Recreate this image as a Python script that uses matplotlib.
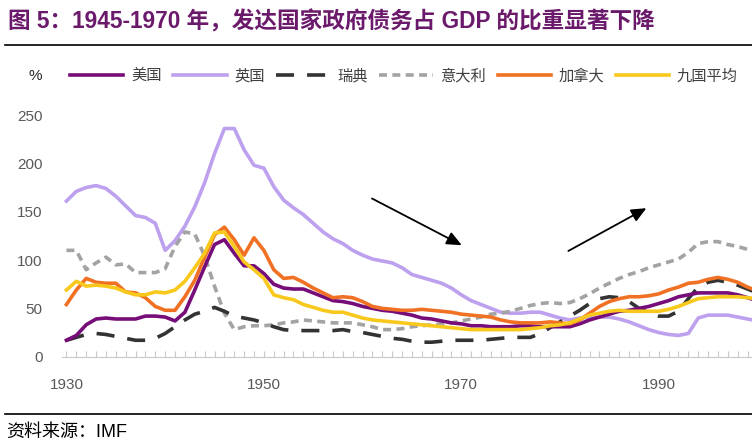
import matplotlib

matplotlib.use("Agg")
import matplotlib.pyplot as plt
import numpy as np
from matplotlib.lines import Line2D
from matplotlib.ticker import FixedLocator, MultipleLocator

plt.rcParams["font.family"] = ["Liberation Sans", "Noto Sans CJK SC", "DejaVu Sans"]

YEARS = list(range(1930, 2001))

US = [17, 22, 33, 39, 40, 39, 39, 39, 42, 42,
      41, 37, 46, 69, 93, 116, 121, 107, 94, 94,
      86, 75, 71, 70, 70, 66, 62, 58, 57, 55,
      52, 50, 48, 47, 45, 43, 40, 39, 37, 35,
      34, 32, 32, 31, 31, 31, 32, 32, 31, 31,
      31, 31, 34, 38, 41, 44, 47, 48, 50, 52,
      55, 58, 62, 64, 66, 66, 66, 66, 64, 61, 58]
UK = [161, 171, 175, 177, 174, 166, 156, 146, 144, 138,
      110, 120, 135, 155, 180, 210, 236, 236, 214, 198,
      195, 176, 162, 154, 147, 138, 129, 122, 117, 110,
      105, 101, 99, 97, 92, 85, 82, 79, 76, 71,
      64, 58, 54, 50, 46, 45, 45, 46, 46, 43,
      40, 38, 40, 41, 41, 41, 39, 36, 32, 28,
      25, 23, 22, 24, 40, 43, 43, 43, 41, 39, 37]
SWEDEN = [17, 20, 23, 24, 23, 21, 19, 17, 17, 19,
          24, 31, 38, 44, 47, 51, 47, 42, 40, 38,
          35, 31, 28, 27, 27, 27, 27, 27, 28, 26,
          25, 23, 21, 19, 18, 16, 15, 15, 16, 17,
          17, 17, 17, 18, 19, 20, 20, 20, 24, 30,
          36, 42, 48, 55, 60, 62, 61, 57, 50, 46,
          42, 42, 47, 60, 72, 77, 79, 77, 74, 70, 66]
ITALY = [110, 110, 90, 97, 103, 95, 96, 87, 87, 87,
         91, 114, 129, 127, 104, 73, 45, 28, 31, 32,
         32, 33, 35, 36, 38, 37, 36, 35, 35, 35,
         33, 31, 28, 28, 29, 31, 32, 33, 34, 35,
         37, 39, 41, 44, 45, 47, 50, 53, 55, 56,
         55, 56, 60, 65, 71, 76, 81, 85, 88, 92,
         95, 98, 101, 108, 117, 119, 119, 116, 114, 111, 110]
CANADA = [54, 69, 81, 77, 76, 76, 67, 66, 61, 52,
          48, 48, 62, 79, 103, 126, 134, 121, 105, 123,
          110, 90, 81, 82, 77, 71, 66, 61, 62, 61,
          57, 52, 50, 49, 48, 48, 49, 48, 47, 46,
          44, 43, 42, 41, 38, 36, 35, 35, 35, 36,
          35, 34, 38, 45, 52, 57, 60, 62, 62, 63,
          65, 69, 72, 76, 77, 80, 82, 80, 77, 72, 68]
AVG9 = [69, 78, 73, 74, 73, 71, 67, 64, 64, 67,
        66, 69, 78, 92, 107, 128, 129, 114, 98, 90,
        81, 64, 61, 59, 54, 51, 48, 46, 46, 43,
        40, 38, 37, 36, 35, 34, 33, 32, 31, 30,
        29, 28, 28, 28, 28, 28, 28, 29, 30, 32,
        33, 35, 39, 43, 45, 47, 48, 47, 47, 47,
        47, 49, 52, 56, 60, 61, 62, 62, 62, 61, 60]

SERIES = [
    ("美国", US, "#760d78", "-"),
    ("英国", UK, "#bda0ee", "-"),
    ("瑞典", SWEDEN, "#333333", (0, (5, 3.6))),
    ("意大利", ITALY, "#a3a3a3", (0, (2.2, 1.5))),
    ("加拿大", CANADA, "#f07123", "-"),
    ("九国平均", AVG9, "#f8c81c", "-"),
]
DRAW_ORDER = ["英国", "意大利", "瑞典", "美国", "加拿大", "九国平均"]

X_LABELS = [1930, 1950, 1970, 1990]
Y_TICKS = [0, 50, 100, 150, 200, 250]
TITLE = "图 5：1945-1970 年，发达国家政府债务占 GDP 的比重显著下降"
SOURCE = "资料来源：IMF"


def main() -> None:
    fig = plt.figure(figsize=(7.52, 4.44), dpi=100)
    ax = fig.add_axes([62 / 752, 87.3 / 444, 690 / 752, 241.7 / 444])

    lookup = {name: (vals, color, ls) for name, vals, color, ls in SERIES}
    for name in DRAW_ORDER:
        vals, color, ls = lookup[name]
        ax.plot(YEARS, vals, color=color, linestyle=ls, lw=2.6, solid_joinstyle="round")

    ax.set_xlim(1929.55, 1999.45)
    ax.set_ylim(0, 250)
    ax.xaxis.set_major_locator(FixedLocator(X_LABELS))
    ax.xaxis.set_minor_locator(MultipleLocator(1))
    ax.set_yticks(Y_TICKS)
    ax.tick_params(axis="x", which="both", direction="in", length=4, color="#c8c8c8", width=0.8)
    ax.tick_params(axis="x", which="major", pad=15, labelsize=11, labelcolor="#595959")
    ax.tick_params(axis="y", length=0, pad=14, labelsize=11, labelcolor="#595959")
    for side in ["top", "right", "left"]:
        ax.spines[side].set_visible(False)
    ax.spines["bottom"].set_color("#c8c8c8")
    ax.spines["bottom"].set_linewidth(0.8)

    arrow = dict(arrowstyle="-|>,head_length=0.9,head_width=0.4", color="black", lw=1.3)
    ax.annotate("", xy=(1970.3, 114), xytext=(1960.7, 165), arrowprops=arrow)
    ax.annotate("", xy=(1989.0, 155), xytext=(1980.6, 108), arrowprops=arrow)

    handles = [Line2D([], [], color=c, linestyle=ls, lw=2.6) for _, _, c, ls in SERIES]
    fig.legend(
        handles,
        [s[0] for s in SERIES],
        loc="center left",
        bbox_to_anchor=(70 / 752, 1 - 76 / 444),
        ncol=6,
        frameon=False,
        fontsize=11,
        handlelength=3.5,
        handletextpad=0.5,
        columnspacing=0.75,
        labelcolor="#404040",
        borderpad=0,
        borderaxespad=0,
    )
    fig.text(35 / 752, 1 - 76 / 444, "%", fontsize=11, color="#262626", ha="center", va="center")

    fig.text(8 / 752, 1 - 22 / 444, TITLE, fontsize=16.3, fontweight="bold", color="#6b1a6b", va="center")
    fig.add_artist(Line2D([5 / 752, 1], [1 - 45 / 444] * 2, color="black", lw=1.2))
    fig.add_artist(Line2D([5 / 752, 1], [1 - 414 / 444] * 2, color="black", lw=1.2))
    fig.text(6 / 752, 1 - 432 / 444, SOURCE, fontsize=13, color="black", va="center")

    fig.savefig("out.png", dpi=100)
    plt.close(fig)


if __name__ == "__main__":
    main()
